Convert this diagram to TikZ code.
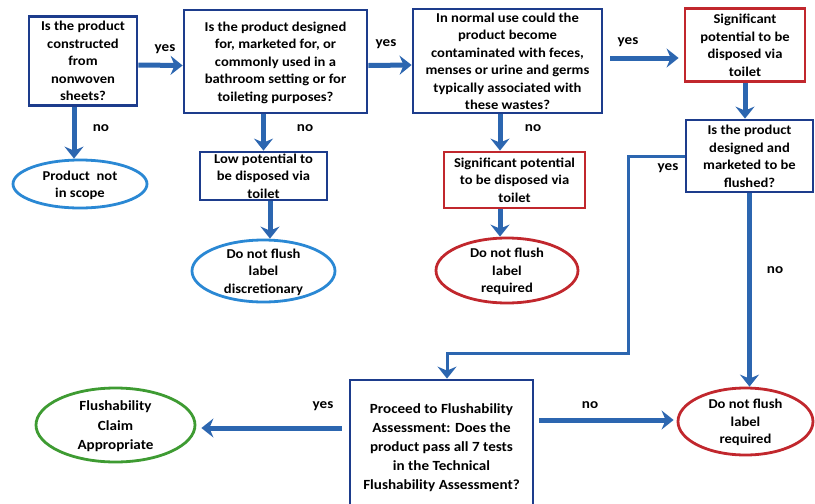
\documentclass[tikz,border=0pt]{standalone}
\usepackage{fontspec}
\setmainfont{Carlito}[FakeStretch=1.08]
\usetikzlibrary{shapes.geometric,arrows.meta}
\definecolor{navy}{HTML}{1D3C8C}
\definecolor{arrblue}{HTML}{2C66B0}
\definecolor{ellblue}{HTML}{2A88D4}
\definecolor{boxred}{HTML}{C1272D}
\definecolor{grn}{HTML}{3E9B32}
\newcommand{\mtxt}[1]{\smash{\raisebox{-5pt}{\begin{tabular}{@{}c@{}}#1\end{tabular}}}}
\tikzset{
  txt/.style={font=\fontsize{13.5}{17.5}\selectfont\bfseries, text=black},
  box/.style={txt, draw=navy, line width=2.8pt, rectangle, inner sep=0pt},
  redbox/.style={box, draw=boxred},
  oval/.style={txt, ellipse, draw=ellblue, line width=2.8pt, inner sep=0pt},
  redoval/.style={oval, draw=boxred},
  grnoval/.style={oval, draw=grn},
  arr/.style={draw=arrblue, line width=5pt, -{Stealth[length=12pt,width=19pt,inset=4pt]}},
  arrthin/.style={arr, line width=3pt},
  lbl/.style={font=\fontsize{14}{16}\selectfont\bfseries, text=black, inner sep=0pt}
}
\begin{document}
\begin{tikzpicture}[x=1pt,y=-1pt]
\useasboundingbox (0,0) rectangle (815,504);
\clip (0,0) rectangle (815,504);
% boxes
\node[box, minimum width=108pt, minimum height=89pt] (A) at (83,61)
  {\mtxt{Is the product\\constructed\\from\\nonwoven\\sheets?}};
\node[box, minimum width=183pt, minimum height=103pt] (B) at (275.5,61.5)
  {\mtxt{Is the product designed\\for, marketed for, or\\commonly used in a\\bathroom setting or for\\toileting purposes?}};
\node[box, minimum width=189pt, minimum height=104pt] (C) at (507.5,61)
  {\mtxt{In normal use could the\\product become\\contaminated with feces,\\menses or urine and germs\\typically associated with\\these wastes?}};
\node[redbox, minimum width=120pt, minimum height=73pt] (D) at (745,45)
  {\mtxt{Significant\\potential to be\\disposed via\\toilet}};
\node[box, minimum width=127pt, minimum height=72pt] (E) at (749.5,156)
  {\mtxt{Is the product\\designed and\\marketed to be\\flushed?}};
\node[box, minimum width=127pt, minimum height=48pt] (F) at (263.5,176)
  {\mtxt{Low potential to\\be disposed via\\toilet}};
\node[redbox, minimum width=141pt, minimum height=56pt] (G) at (514.5,180)
  {\mtxt{Significant potential\\to be disposed via\\toilet}};
\node[box, minimum width=183pt, minimum height=132pt, font=\fontsize{14}{19}\selectfont\bfseries] (H) at (441.5,446)
  {\mtxt{Proceed to Flushability\\Assessment: Does the\\product pass all 7 tests\\in the Technical\\Flushability Assessment?}};
% ovals
\node[oval, minimum width=134pt, minimum height=48pt] (P1) at (80,184)
  {\mtxt{Product~ not\\in scope}};
\node[oval, minimum width=143pt, minimum height=62pt] (P2) at (263.5,271)
  {\mtxt{Do not flush\\label\\discretionary}};
\node[redoval, minimum width=142pt, minimum height=65pt] (R1) at (507,270.5)
  {\mtxt{Do not flush\\label\\required}};
\node[grnoval, minimum width=159pt, minimum height=74pt, font=\fontsize{14}{19.5}\selectfont\bfseries] (G1) at (115.5,425)
  {\mtxt{Flushability\\Claim\\Appropriate}};
\node[redoval, minimum width=135pt, minimum height=67pt] (R2) at (745.5,421.5)
  {\mtxt{Do not flush\\label\\required}};
% connectors
\draw[arr] ([yshift=-4pt]A.east) -- ([yshift=-4pt]B.west);
\draw[arr] ([yshift=-4pt]B.east) -- ([yshift=-4pt]C.west);
\draw[arr, shorten <=7pt, shorten >=5pt] ([yshift=3pt]C.east) -- ([yshift=-13pt]D.west);
\draw[arr] (D.south) -- (D.south |- E.north);
\draw[arr] ([xshift=-9pt]A.south) -- ([xshift=-6pt]P1.north);
\draw[arr] ([xshift=-12pt]B.south) -- (F.north);
\draw[arr] ([xshift=6.5pt]F.south) -- ([xshift=6.5pt]P2.north);
\draw[arr] ([xshift=-7.5pt]C.south) -- ([xshift=-14.5pt]G.north);
\draw[arr] ([xshift=-14.5pt]G.south) -- ([xshift=-7pt]R1.north);
\coordinate (k1) at (628,353);
\draw[arrthin] (E.west) -| (k1) -| ([xshift=5.5pt]H.north);
\draw[arr] (E.south) -- (E.south |- R2.north);
\draw[arr, shorten <=7pt, shorten >=5pt] ([yshift=18pt]H.west) -- ([yshift=-3pt]G1.east);
\draw[arr, shorten <=5pt, shorten >=3pt] ([yshift=26pt]H.east) -- ([yshift=1.5pt]R2.west);
% labels
\node[lbl] (y1) at (165,49) {yes};
\node[lbl] (y2) at (386,44) {yes};
\node[lbl] (y3) at (628,42) {yes};
\node[lbl] (y4) at (668,168) {yes};
\node[lbl] (y5) at (323,406) {yes};
\node[lbl] (n1) at (101,128) {no};
\node[lbl] (n2) at (305,128) {no};
\node[lbl] (n3) at (533,128) {no};
\node[lbl] (n4) at (775,270) {no};
\node[lbl] (n5) at (590,405) {no};
\end{tikzpicture}
\end{document}
